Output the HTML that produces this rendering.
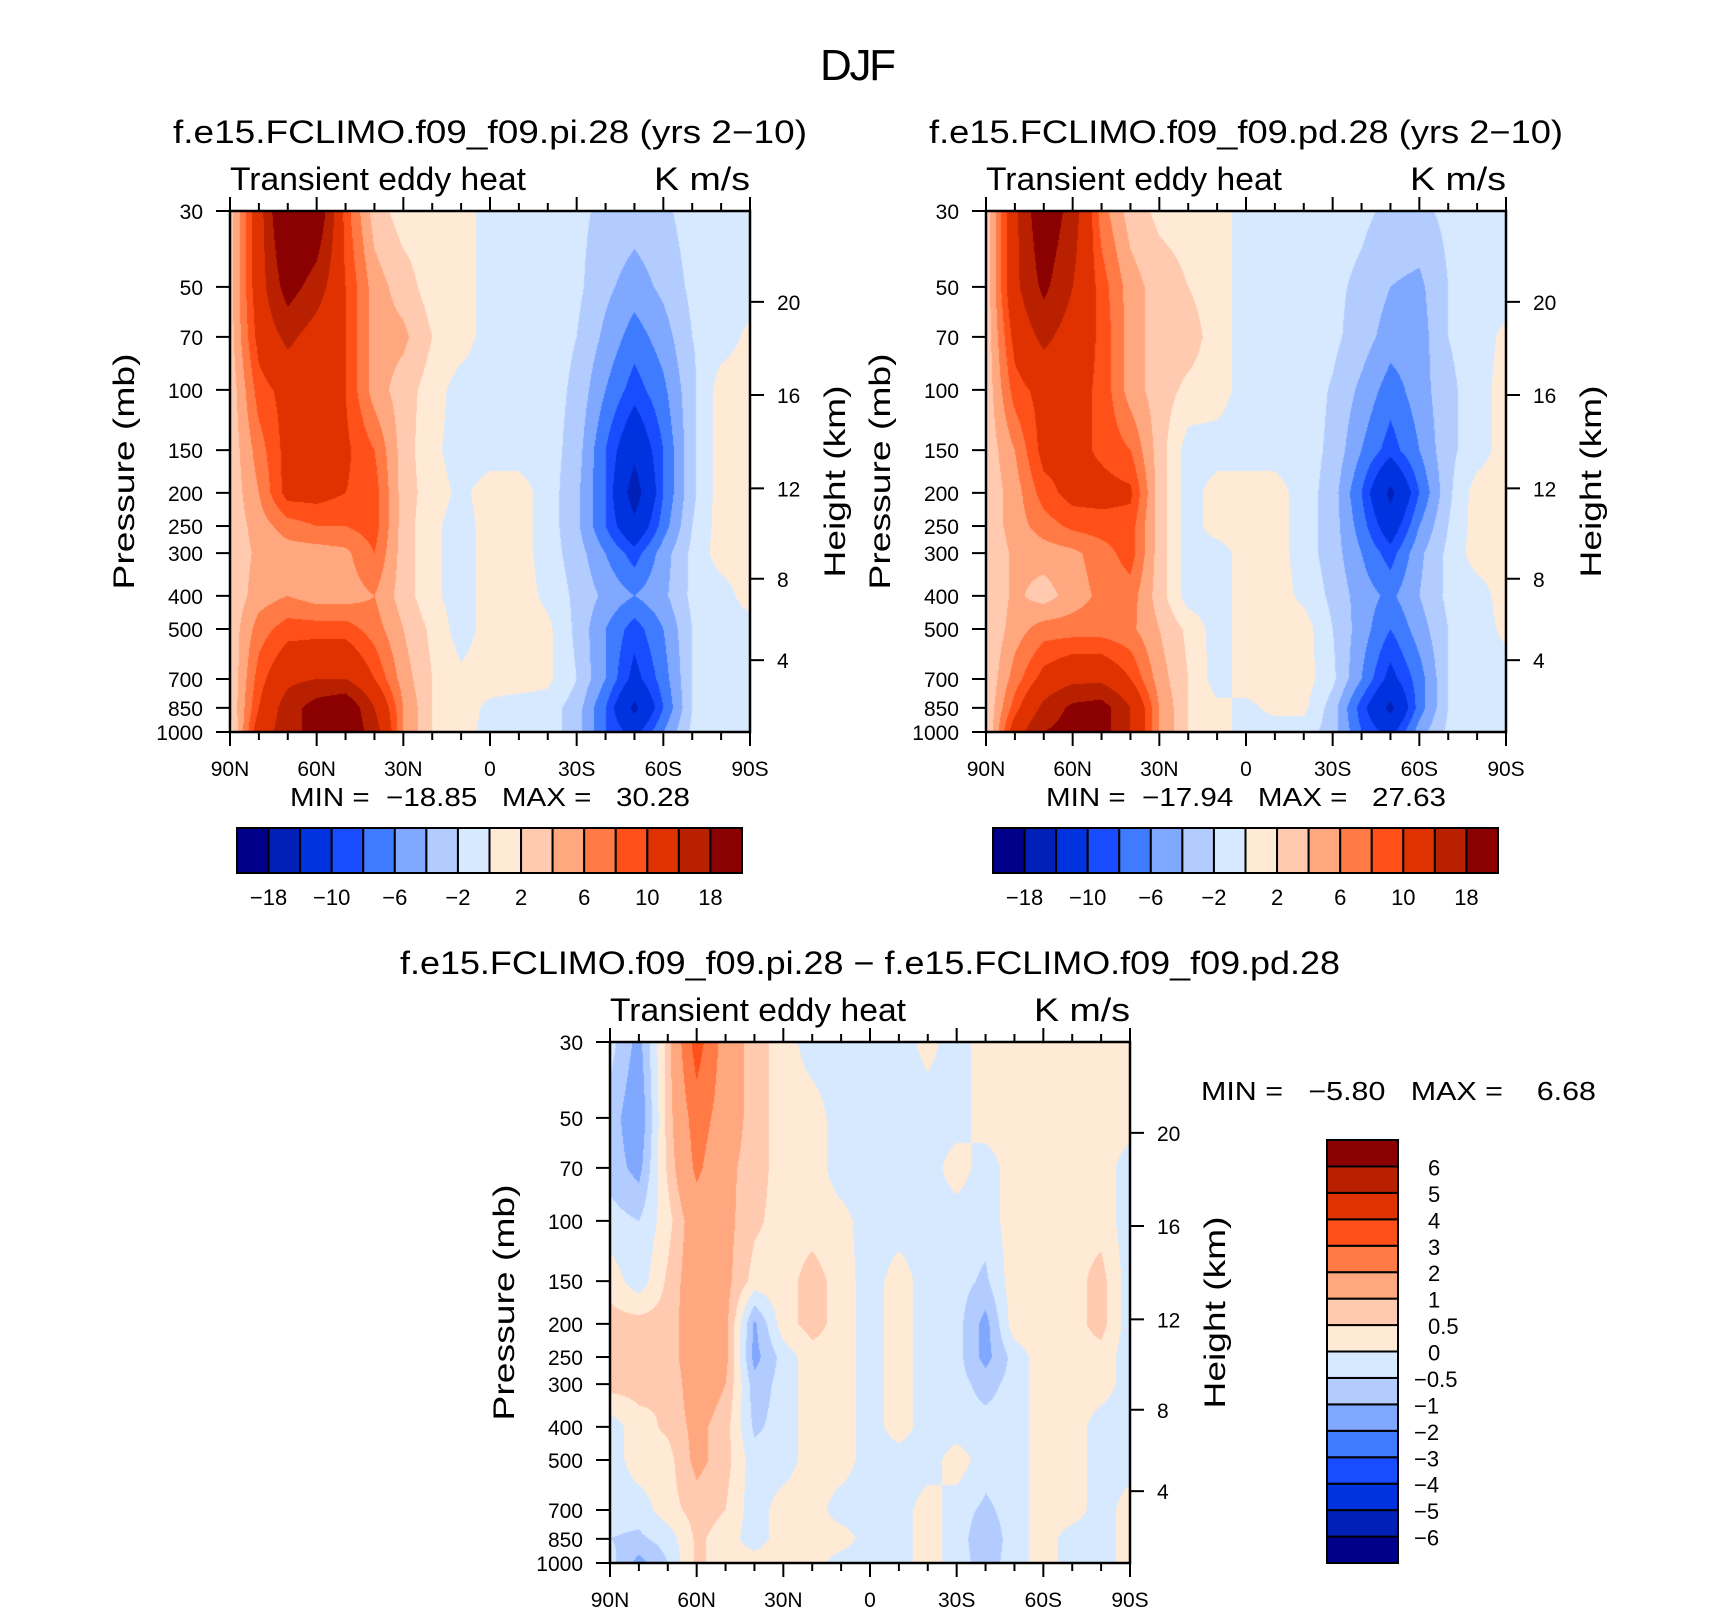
<!DOCTYPE html>
<html><head><meta charset="utf-8"><style>
html,body{margin:0;padding:0;background:#fff;}
#wrap{position:relative;width:1710px;height:1611px;overflow:hidden;font-family:"Liberation Sans",sans-serif;}
canvas{position:absolute;}
svg{position:absolute;left:0;top:0;}
text{white-space:pre;}
</style></head><body>
<div id="wrap">
<canvas id="c0"></canvas>
<canvas id="c1"></canvas>
<canvas id="c2"></canvas>
<svg id="svg" width="1710" height="1611"></svg>
</div>
<script>
// ---- data ----
const latLabels = ["90N","80N","70N","60N","50N","40N","30N","20N","10N","0","10S","20S","30S","40S","50S","60S","70S","80S","90S"];
const pressureLevels = [30,50,70,100,150,200,250,300,400,500,700,850,1000];
const pTickLabels = ["30","50","70","100","150","200","250","300","400","500","700","850","1000"];
const xTickLabels = ["90N","60N","30N","0","30S","60S","90S"];
const kmTicks = [4,8,12,16,20];
const kmPressure = [616.6,356.5,194.0,103.5,55.3];
const fullLevels = [-18,-14,-10,-8,-6,-4,-2,0,2,4,6,8,10,14,18];
const fullLevelLabels = ["−18","−10","−6","−2","2","6","10","18"];
const diffLevels = [-6,-5,-4,-3,-2,-1,-0.5,0,0.5,1,2,3,4,5,6];
const diffLevelLabels = ["−6","−5","−4","−3","−2","−1","−0.5","0","0.5","1","2","3","4","5","6"];
const colors = ["#00008a","#0020b8","#0032e0","#1a4cff","#3f7bff","#80a8ff","#b3ccff","#d6e9ff","#ffead6","#ffcab0","#ffa880","#ff7a45","#ff501a","#e03200","#b82000","#8b0000"];

const piField = [
[3,12,25,22,9,3,1,1,1,-1,-1,-1,-1.5,-2.5,-3,-2.5,-1,-1,-1],
[3,12,20,16,10,5,3,1,1,-1,-1,-1,-1.5,-3.5,-5,-3.5,-1.5,-1,-1],
[3,11,15,12,10,5,4.5,2,1,-1,-1,-1,-2,-4.5,-7,-5,-2,-1,0.5],
[2.5,9,11,11,10,5,3,1,-1,-1,-1,-1,-2.5,-6,-9,-6.5,-2.5,1,1],
[2.5,7,11,11,10.5,8,3,0.5,-1,-1,-1,-1,-3,-8,-13,-8,-2.5,1,1],
[2.5,6,11,11,10,9,3,1,-0.5,1,1,-1,-3.5,-8,-16,-8,-2.5,1,1],
[2.5,5,7,8,8,9,3,0.5,-1,1,1,-1,-3.5,-8,-13,-7,-2,1,1],
[2.5,4.5,5,5,5.5,8,3,0.5,-1,1,1,-1,-3,-6,-9,-5,-1.5,1,1],
[2.5,5,6,5,5,6,3,0.5,-1,1,1,-0.5,-2.5,-4.5,-6,-4.5,-1.5,-1,1],
[2.5,7,9,9,9,7,4,1.5,-1,1,1,0.5,-2.5,-6,-9,-6,-2,-1,-1],
[2,9,13,14,14,10,5,2,0.5,1,1,0.5,-2,-6,-11,-7,-2,-1,-1],
[2,10,16,20,22,14,6,2,1,-0.5,-1,-1,-3,-8,-15,-8,-2,-1,-1],
[1,12,16,20,22,16,6,2,0.5,-0.5,-1,-1,-3,-8,-11,-6,-1.5,-1,-1]];

const pdField = [
[2.5,13,22,16,7,3,1.5,1.2,1,-1,-1,-1,-1,-1.5,-2.5,-2.5,-1.5,-1,-1],
[2.5,13,19,14,9,5,3,2,1,-1,-1,-1,-1.5,-2.5,-4,-4.5,-2,-1,-1],
[2.5,11,15,12,9.5,5,3,3,1,-1,-1,-1,-1.5,-3,-5,-5,-2,-1,0.5],
[2.5,9,11,11,9.5,5,3,1.5,1,-1,-1,-1,-2.2,-4.5,-7,-5,-2.5,-1,1],
[2.5,6,11,11,9.5,8,3,-1,-1,-1,-1,-1,-2.5,-6,-9,-6,-2.5,-1,1],
[2.5,5,9,11,11,10.5,3,-1,1,1,1,-1,-3,-8,-15,-8,-2.5,1,1],
[2.5,5,7,8.5,9,9,3,-1,1,1,1,-1,-3,-7,-12,-6,-2,1,1],
[2,4.5,5,5.5,7,9,3,-1,-1,1,1,-1,-3,-6,-9,-4.5,-1.5,1,1],
[2,4.5,3,5,6.5,7,3,-1,-1,1,1,-0.5,-2.5,-5,-6.5,-4,-1.5,-1,1],
[2,5,7,7,7,6.5,4,1.5,-1,1,1,1,-2,-5,-8,-5,-2,-1,0.5],
[2,7,11,13,13,10,5,2,-1,1,1,1,-1.5,-6,-11,-7,-2,-1,-1],
[2,9,15,19,20,14,6,2,0.5,-0.5,0.5,0.5,-3,-9,-15,-7,-2,-1,-1],
[1.5,12,18,20,20,14,6,2,0.5,-0.5,-1,-1,-3,-8,-11,-5,-1.5,-1,-1]];

const diffField = [
[-0.3,-1.2,0.7,3.5,1.5,0.7,0.3,-0.3,-0.3,-0.3,-0.3,0.2,-0.3,0.3,0.3,0.3,0.3,0.3,0.3],
[-0.7,-1.5,0.7,2.5,1.5,0.7,0.3,0.3,-0.3,-0.3,-0.3,-0.3,-0.3,0.3,0.3,0.3,0.3,0.3,0.3],
[-0.7,-1.2,0.6,2.2,1.2,0.7,0.3,0.3,-0.3,-0.3,-0.3,-0.3,0.3,-0.3,0.3,0.3,0.3,0.3,-0.3],
[-0.3,-0.5,0.3,1.5,1.2,0.6,0.3,0.3,0.2,-0.3,-0.3,-0.3,-0.3,-0.3,0.3,0.3,0.3,0.3,-0.3],
[0.3,-0.3,0.6,1.5,1.2,0.3,0.3,0.7,0.3,-0.3,0.3,-0.3,-0.3,-0.6,0.3,0.3,0.3,0.7,-0.3],
[0.7,0.7,0.7,1.5,1.2,-1.1,0.3,0.7,0.3,-0.3,0.3,-0.3,-0.3,-1.2,0.3,0.3,0.3,0.7,-0.3],
[0.7,0.7,0.7,1.5,1.2,-1.2,-0.3,0.3,0.3,-0.3,0.3,-0.3,-0.3,-1.2,-0.3,0.3,0.3,0.3,-0.3],
[0.7,0.7,0.5,1.5,1.0,-0.8,-0.3,0.3,0.3,-0.3,0.3,-0.3,-0.3,-0.7,-0.3,0.3,0.3,0.3,-0.3],
[-0.3,0.3,0.6,1.2,0.7,-0.6,-0.3,0.3,0.3,-0.3,0.3,-0.3,-0.3,-0.3,-0.3,0.3,0.3,-0.3,-0.3],
[-0.3,0.3,0.3,1.2,0.7,-0.3,-0.3,0.3,0.3,-0.3,-0.3,-0.3,0.3,-0.3,-0.3,0.3,0.3,-0.3,-0.3],
[-0.3,-0.3,0.3,0.7,0.5,-0.3,0.3,0.3,-0.3,-0.3,-0.3,0.3,-0.3,-0.6,-0.3,0.3,0.3,-0.3,0.3],
[-0.5,-0.6,-0.3,0.6,0.3,-0.3,0.3,0.3,0.3,-0.3,-0.3,0.3,-0.3,-0.8,-0.3,0.3,-0.3,-0.3,0.3],
[-0.3,-1.2,-0.5,0.6,0.3,0.3,0.3,0.3,-0.3,-0.3,-0.3,0.3,-0.3,-0.7,-0.3,0.3,-0.3,-0.3,0.3]];

// ---- layout ----
const PW = 520, PH = 521;
const plots = [
 {x:230,y:211,field:piField,levels:fullLevels,canvas:"c0",name:"pi"},
 {x:986,y:211,field:pdField,levels:fullLevels,canvas:"c1",name:"pd"},
 {x:610,y:1042,field:diffField,levels:diffLevels,canvas:"c2",name:"diff"}];
const L30 = Math.log10(30), L1000 = Math.log10(1000);
function yOfP(pl,p){return pl.y + (Math.log10(p)-L30)/(L1000-L30)*PH;}
function xOfLat(pl,lat){return pl.x + (90-lat)/180*PW;}
const logLev = pressureLevels.map(p=>Math.log10(p));
function hex(c){return [parseInt(c.substr(1,2),16),parseInt(c.substr(3,2),16),parseInt(c.substr(5,2),16)];}
const rgb = colors.map(hex);

function sample(field, fx, lp){
  let r=0; while(r<logLev.length-2 && lp>logLev[r+1]) r++;
  let t=(lp-logLev[r])/(logLev[r+1]-logLev[r]); t=Math.max(0,Math.min(1,t));
  let c=Math.min(Math.floor(fx),latLabels.length-2); let s=fx-c;
  const a=field[r][c]*(1-s)+field[r][c+1]*s;
  const b=field[r+1][c]*(1-s)+field[r+1][c+1]*s;
  return a*(1-t)+b*t;
}
plots.forEach(pl=>{
  const cv=document.getElementById(pl.canvas);
  cv.width=PW; cv.height=PH; cv.style.left=pl.x+"px"; cv.style.top=pl.y+"px";
  const ctx=cv.getContext("2d"); const img=ctx.createImageData(PW,PH);
  for(let j=0;j<PH;j++){
    const lp=L30+(j+0.5)/PH*(L1000-L30);
    for(let i=0;i<PW;i++){
      const fx=(i+0.5)/PW*(latLabels.length-1);
      const v=sample(pl.field,fx,lp);
      let k=0; while(k<pl.levels.length && v>=pl.levels[k]) k++;
      const c=rgb[k]; const o=(j*PW+i)*4;
      img.data[o]=c[0];img.data[o+1]=c[1];img.data[o+2]=c[2];img.data[o+3]=255;
    }
  }
  ctx.putImageData(img,0,0);
});

// ---- svg annotations ----
const svg=document.getElementById("svg"); const NS="http://www.w3.org/2000/svg";
function el(tag,attrs,parent){const e=document.createElementNS(NS,tag);for(const k in attrs)e.setAttribute(k,attrs[k]);(parent||svg).appendChild(e);return e;}
function txt(s,x,y,size,anchor,extra,parent){const e=el("text",Object.assign({x:x,y:y,"font-size":size,"text-anchor":anchor||"middle","font-family":"Liberation Sans, sans-serif",fill:"#000"},extra||{}),parent);e.textContent=s;return e;}

let t;
t=txt("DJF",858,80,44,"middle",{textLength:76});



const subTitles=["f.e15.FCLIMO.f09_f09.pi.28 (yrs 2−10)","f.e15.FCLIMO.f09_f09.pd.28 (yrs 2−10)","f.e15.FCLIMO.f09_f09.pi.28 − f.e15.FCLIMO.f09_f09.pd.28"];
const subLen=[634,634,940];
plots.forEach((pl,idx)=>{
  const g=el("g",{});
  
  
  const st=txt(subTitles[idx],pl.x+PW/2,pl.y-68,32,"middle",{textLength:subLen[idx],lengthAdjust:"spacingAndGlyphs"},g);
  
  
  const l1=txt("Transient eddy heat",pl.x,pl.y-21,32,"start",{textLength:296,lengthAdjust:"spacingAndGlyphs"},g);
  
  
  const l2=txt("K m/s",pl.x+PW,pl.y-21,32,"end",{textLength:96,lengthAdjust:"spacingAndGlyphs"},g);
  
  
  const fr=el("rect",{x:pl.x,y:pl.y,width:PW,height:PH,fill:"none",stroke:"#000","stroke-width":2.5},g);
  
  
  for(let lat=90;lat>=-90;lat-=10){
    const x=xOfLat(pl,lat); const major=(lat%30===0); const len=major?14:8;
    el("line",{x1:x,y1:pl.y+PH,x2:x,y2:pl.y+PH+len,stroke:"#000","stroke-width":2},g);
    el("line",{x1:x,y1:pl.y,x2:x,y2:pl.y-len,stroke:"#000","stroke-width":2},g);
  }
  xTickLabels.forEach((s,k)=>{
    const lt=txt(s,xOfLat(pl,90-30*k),pl.y+PH+44,21,"middle",{},g);
    
    
  });
  pressureLevels.forEach((p,k)=>{
    const y=yOfP(pl,p);
    el("line",{x1:pl.x,y1:y,x2:pl.x-14,y2:y,stroke:"#000","stroke-width":2},g);
    const lt=txt(pTickLabels[k],pl.x-27,y+8,21,"end",{},g);
    
    
  });
  kmTicks.forEach((h,k)=>{
    const y=yOfP(pl,kmPressure[k]);
    el("line",{x1:pl.x+PW,y1:y,x2:pl.x+PW+14,y2:y,stroke:"#000","stroke-width":2},g);
    const lt=txt(String(h),pl.x+PW+27,y+8,21,"start",{},g);
    
    
  });
  const cy=pl.y+PH*0.5;
  const yt=txt("Pressure (mb)",0,0,30,"middle",{textLength:236,lengthAdjust:"spacingAndGlyphs",transform:"translate("+(pl.x-96)+","+cy+") rotate(-90)"},g);
  
  
  const ht=txt("Height (km)",0,0,30,"middle",{textLength:192,lengthAdjust:"spacingAndGlyphs",transform:"translate("+(pl.x+PW+95)+","+(cy+10)+") rotate(-90)"},g);
  
  
});

const mm=[["MIN =  −18.85   MAX =   30.28",290,806,400],["MIN =  −17.94   MAX =   27.63",1046,806,400],["MIN =   −5.80   MAX =    6.68",1201,1100,395]];
mm.forEach(m=>{
  const e=txt(m[0],m[1],m[2],26,"start",{textLength:m[3],lengthAdjust:"spacingAndGlyphs"});
  
  
});

[237,993].forEach(x0=>{
  const g=el("g",{});
  
  
  const w=(742-237)/colors.length;
  colors.forEach((c,k)=>{
    const r=el("rect",{x:x0+k*w,y:828,width:w,height:45,fill:c,stroke:"#000","stroke-width":2},g);
    
    
  });
  fullLevelLabels.forEach((s,k)=>{
    const lt=txt(s,x0+(1+2*k)*w,905,22,"middle",{},g);
    
    
  });
});
(function(){
  const g=el("g",{});
  
  
  const x0=1327,y0=1140,h=(1563-1140)/colors.length;
  colors.forEach((c,k)=>{
    const r=el("rect",{x:x0,y:y0+(colors.length-1-k)*h,width:71,height:h,fill:c,stroke:"#000","stroke-width":2},g);
    
    
  });
  diffLevelLabels.forEach((s,k)=>{
    const y=y0+(colors.length-1-k)*h;
    const lt=txt(s,1428,y+9,22,"start",{dx:s.startsWith("−")?-14:0},g);
    
    
  });
})();
</script>
</body></html>
